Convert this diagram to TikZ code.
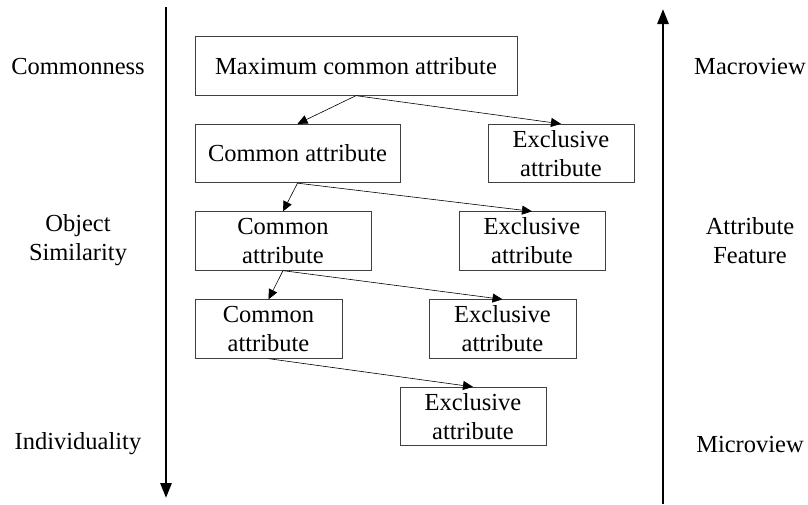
\documentclass[tikz,border=0pt]{standalone}
\usepackage{fontspec}
\setmainfont{Liberation Serif}
\usetikzlibrary{arrows.meta}

\begin{document}
\begin{tikzpicture}
[
    x=1pt, y=-1pt,
    every node/.style={font=\rmfamily\fontsize{24.5}{29}\selectfont, align=center, inner sep=0pt},
    attrbox/.style={draw=black!75, line width=0.8pt, minimum height=58.5pt},
    link/.style={line width=0.6pt, -{Triangle[length=10pt, width=9pt]}},
    axis/.style={line width=2.8pt, -{Triangle[length=15pt, width=11pt]}},
]
\useasboundingbox (0,0) rectangle (808,504);
\node [attrbox, minimum width=322pt] (maxcommon) at (356,66) {Maximum common attribute};
\node [attrbox, minimum width=205pt] (common1) at (297.5,153.5) {Common attribute};
\node [attrbox, minimum width=146pt] (excl1) at (561,153.5) {Exclusive\\attribute};
\node [attrbox, minimum width=176pt] (common2) at (283,241) {Common\\attribute};
\node [attrbox, minimum width=146pt] (excl2) at (532,241) {Exclusive\\attribute};
\node [attrbox, minimum width=147pt] (common3) at (268.5,329) {Common\\attribute};
\node [attrbox, minimum width=147pt] (excl3) at (502.5,329) {Exclusive\\attribute};
\node [attrbox, minimum width=146pt] (excl4) at (473,416.5) {Exclusive\\attribute};
\draw [link] (maxcommon.south) -- (common1.north);
\draw [link] (maxcommon.south) -- (excl1.north);
\draw [link] (common1.south) -- (common2.north);
\draw [link] (common1.south) -- (excl2.north);
\draw [link] (common2.south) -- (common3.north);
\draw [link] (common2.south) -- (excl3.north);
\draw [link] (common3.south) -- (excl4.north);
\coordinate (lefttop) at (166,7);
\coordinate (leftbottom) at (166,498);
\coordinate (rightbottom) at (663,504);
\coordinate (righttop) at (663,9);
\draw [axis] (lefttop) -- (leftbottom);
\draw [axis] (rightbottom) -- (righttop);
\node (commonness) at (78,67) {Commonness};
\node (similarity) at (78,240.5) {Object\\Similarity};
\node (individuality) at (78,444) {Individuality};
\node (macroview) at (750,67) {Macroview};
\node (feature) at (750,240.5) {Attribute\\Feature};
\node (microview) at (750,444) {Microview};
\end{tikzpicture}
\end{document}
